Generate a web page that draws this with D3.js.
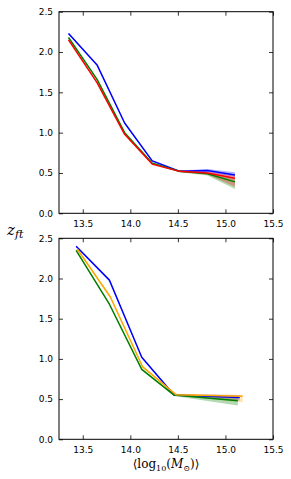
<!DOCTYPE html>
<html><head><meta charset="utf-8">
<script src="https://cdn.jsdelivr.net/npm/d3@7"></script>
<style>body{margin:0;background:#fff}svg{display:block}</style>
</head><body>
<script>
// ---- data ----
const xTicks = [13.5, 14.0, 14.5, 15.0, 15.5];
const yTicks = [0.0, 0.5, 1.0, 1.5, 2.0, 2.5];

const topX = [13.35, 13.65, 13.94, 14.23, 14.52, 14.81, 15.10];
const topBlue = [2.23, 1.84, 1.12, 0.65, 0.52, 0.53, 0.475];
const topBlueLo = [2.22, 1.83, 1.11, 0.64, 0.51, 0.51, 0.45];
const topBlueHi = [2.24, 1.85, 1.13, 0.66, 0.53, 0.55, 0.51];
const topGreen = [2.18, 1.66, 1.00, 0.62, 0.52, 0.49, 0.39];
const topGreenLo = [2.17, 1.65, 0.99, 0.61, 0.51, 0.47, 0.30];
const topGreenHi = [2.19, 1.67, 1.01, 0.63, 0.53, 0.51, 0.44];
const topRed = [2.15, 1.62, 0.98, 0.61, 0.52, 0.50, 0.435];
const topRedLo = [2.14, 1.61, 0.97, 0.60, 0.51, 0.48, 0.33];
const topRedHi = [2.16, 1.63, 0.99, 0.62, 0.53, 0.52, 0.47];

const botXBlue = [13.43, 13.78, 14.12, 14.46, 15.15];
const botBlue = [2.40, 1.98, 1.02, 0.55, 0.52];
const botBlueLo = [2.39, 1.97, 1.01, 0.54, 0.48];
const botBlueHi = [2.41, 1.99, 1.03, 0.56, 0.55];
const botXOrange = [13.44, 13.79, 14.13, 14.48, 15.18];
const botOrange = [2.37, 1.77, 0.90, 0.555, 0.535];
const botOrangeLo = [2.36, 1.76, 0.89, 0.545, 0.46];
const botOrangeHi = [2.38, 1.78, 0.91, 0.565, 0.55];
const botXGreen = [13.43, 13.78, 14.12, 14.46, 15.13];
const botGreen = [2.35, 1.68, 0.87, 0.55, 0.48];
const botGreenLo = [2.34, 1.67, 0.86, 0.54, 0.42];
const botGreenHi = [2.36, 1.69, 0.88, 0.56, 0.53];

// ---- drawing ----
const W = 291, H = 479;
const svg = d3.select("body").append("svg").attr("width", W).attr("height", H);
const font = "'DejaVu Sans', sans-serif";

function panel(top, bottom, series) {
  const x = d3.scaleLinear().domain([13.25, 15.5]).range([59, 273]);
  const y = d3.scaleLinear().domain([0, 2.5]).range([bottom, top]);
  const g = svg.append("g");
  // bands
  series.forEach(s => {
    const pts = s.x.map((v, i) => ({x: v, lo: s.lo[i], hi: s.hi[i]}));
    g.append("path").datum(pts)
      .attr("d", d3.area().x(d => x(d.x)).y0(d => y(d.lo)).y1(d => y(d.hi)))
      .attr("fill", s.color).attr("fill-opacity", 0.3).attr("stroke", "none");
  });
  series.forEach(s => {
    const pts = s.x.map((v, i) => ({x: v, y: s.y[i]}));
    g.append("path").datum(pts)
      .attr("d", d3.line().x(d => x(d.x)).y(d => y(d.y)))
      .attr("fill", "none").attr("stroke", s.color).attr("stroke-width", 1.5)
      .attr("stroke-linejoin", "round");
  });
  // axes: ticks inward on all sides
  const tl = 4;
  const ax = g.append("g").attr("transform", `translate(0,${bottom})`)
    .call(d3.axisBottom(x).tickValues(xTicks).tickFormat(d3.format(".1f")).tickSizeInner(-tl).tickSizeOuter(0).tickPadding(7));
  const axT = g.append("g").attr("transform", `translate(0,${top})`)
    .call(d3.axisTop(x).tickValues(xTicks).tickFormat("").tickSizeInner(-tl).tickSizeOuter(0));
  const ay = g.append("g").attr("transform", `translate(59,0)`)
    .call(d3.axisLeft(y).tickValues(yTicks).tickFormat(d3.format(".1f")).tickSizeInner(-tl).tickSizeOuter(0).tickPadding(6));
  const ayR = g.append("g").attr("transform", `translate(273,0)`)
    .call(d3.axisRight(y).tickValues(yTicks).tickFormat("").tickSizeInner(-tl).tickSizeOuter(0));
  [ax, axT, ay, ayR].forEach(a => {
    a.select(".domain").remove();
    a.selectAll("line").attr("stroke", "#000").attr("stroke-width", 0.8);
    a.selectAll("text").attr("font-family", font).attr("font-size", 9).attr("fill", "#000");
  });
  g.append("rect").attr("x", 59).attr("y", top).attr("width", 214).attr("height", bottom - top)
    .attr("fill", "none").attr("stroke", "#000").attr("stroke-width", 1);
}

panel(11.7, 213.3, [
  {x: topX, y: topBlue, lo: topBlueLo, hi: topBlueHi, color: "#0000ff"},
  {x: topX, y: topGreen, lo: topGreenLo, hi: topGreenHi, color: "#008000"},
  {x: topX, y: topRed, lo: topRedLo, hi: topRedHi, color: "#ff0000"}
]);
panel(238.3, 439.3, [
  {x: botXBlue, y: botBlue, lo: botBlueLo, hi: botBlueHi, color: "#0000ff"},
  {x: botXGreen, y: botGreen, lo: botGreenLo, hi: botGreenHi, color: "#008000"},
  {x: botXOrange, y: botOrange, lo: botOrangeLo, hi: botOrangeHi, color: "#ffa500"}
]);

// y label z_ft
const yl = svg.append("text").attr("x", 7).attr("y", 235)
  .attr("font-family", "'DejaVu Serif', serif").attr("font-style", "italic").attr("font-size", 15);
yl.append("tspan").text("z");
yl.append("tspan").attr("dy", 3).attr("font-size", 11).text("ft");

// x label
const xl = svg.append("text").attr("x", 166).attr("y", 468).attr("text-anchor", "middle")
  .attr("font-family", "'DejaVu Serif', serif").attr("font-size", 12);
xl.append("tspan").text("\u27E8log");
xl.append("tspan").attr("dy", 3).attr("font-size", 8).text("10");
xl.append("tspan").attr("dy", -3).text("(");
xl.append("tspan").attr("font-style", "italic").text("M");
xl.append("tspan").attr("dy", 3).attr("font-size", 8).text("\u2299");
xl.append("tspan").attr("dy", -3).text(")\u27E9");
</script>
</body></html>
